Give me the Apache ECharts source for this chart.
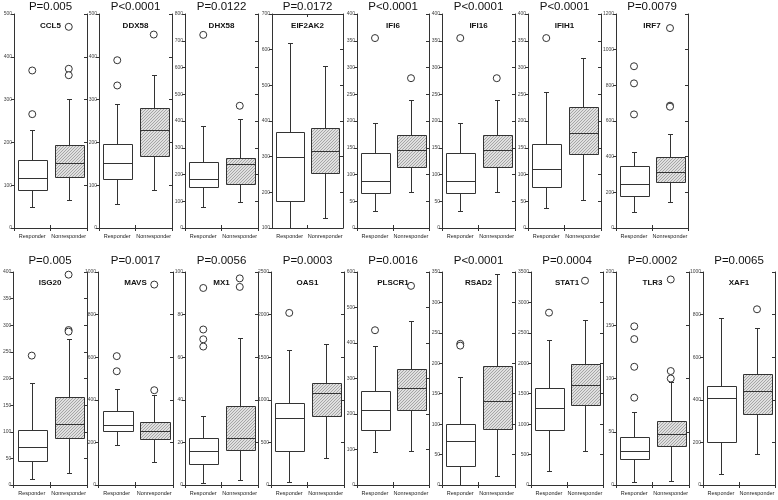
<!DOCTYPE html>
<html><head><meta charset="utf-8">
<script src="https://cdn.jsdelivr.net/npm/echarts@6/dist/echarts.min.js"></script>
<style>html,body{margin:0;padding:0;background:#fff}#c{width:778px;height:500px}</style>
</head><body><div id="c"></div>
<script>
// ---------------- DATA ----------------
const categories = ['Responder', 'Nonresponder'];
const genes = ['CCL5','DDX58','DHX58','EIF2AK2','IFI6','IFI16','IFIH1','IRF7',
               'ISG20','MAVS','MX1','OAS1','PLSCR1','RSAD2','STAT1','TLR3','XAF1'];
const pValues = ['P=0.005','P<0.0001','P=0.0122','P=0.0172','P<0.0001','P<0.0001','P<0.0001','P=0.0079',
                 'P=0.005','P=0.0017','P=0.0056','P=0.0003','P=0.0016','P<0.0001','P=0.0004','P=0.0002','P=0.0065'];
// y axis ticks
const yMins      = [0, 0, 0, 100, 0, 0, 0, 0,    0, 0, 0, 0, 0, 0, 0, 0, 0];
const yMaxs      = [500, 500, 800, 700, 400, 400, 400, 1200,  400, 1000, 100, 2500, 600, 350, 3500, 200, 1000];
const yIntervals = [100, 100, 100, 100, 50, 50, 50, 200,  50, 200, 20, 500, 100, 50, 500, 50, 200];
// [lower whisker, Q1, median, Q3, upper whisker]
const responderBox = [
  [49, 89, 117, 159, 228],
  [57, 115, 152, 197, 289],
  [78, 152, 184, 245, 380],
  [80, 175, 299, 368, 620],
  [32, 65, 87, 141, 196],
  [32, 65, 87, 141, 196],
  [37, 77, 111, 157, 254],
  [88, 178, 249, 350, 426],
  [12, 46, 71, 104, 191],
  [188, 255, 284, 348, 452],
  [1.1, 9.7, 15.8, 22, 32.5],
  [39, 395, 781, 965, 1590],
  [92, 154, 210, 264, 392],
  [0, 32, 72, 101, 178],
  [230, 902, 1258, 1602, 2389],
  [3, 24, 32, 45, 69],
  [52, 203, 409, 467, 786]
];
const nonresponderBox = [
  [65, 120, 153, 195, 301],
  [88, 169, 228, 280, 357],
  [97, 166, 240, 260, 407],
  [128, 254, 315, 380, 553],
  [67, 114, 145, 174, 240],
  [67, 114, 145, 174, 239],
  [52, 138, 178, 226, 318],
  [146, 258, 316, 398, 527],
  [22, 88, 114, 166, 275],
  [106, 216, 252, 297, 422],
  [2.3, 16.3, 21.9, 37.3, 68.8],
  [313, 813, 1074, 1199, 1652],
  [96, 212, 273, 326, 462],
  [15, 92, 138, 196, 347],
  [558, 1312, 1640, 1996, 2717],
  [4, 37, 48, 60, 97],
  [145, 331, 439, 519, 737]
];
const responderOutliers = [
  [368, 266], [392, 333], [722], [], [355], [355], [355], [907, 811, 637],
  [243], [605, 534], [92.5, 73, 68.4, 65], [2020], [436], [232, 229], [2832], [149, 137, 111, 82], []
];
const nonresponderOutliers = [
  [470, 372, 357], [452], [457], [], [280], [280], [], [1121, 686, 680],
  [395, 291, 288], [941, 445], [97, 93], [], [561], [], [3357], [193, 107, 100], [825]
];

// ---------------- LAYOUT ----------------
const topRowX = [[14,87],[99,172],[185,258],[272,343],[357,429],[442,515],[528,601],[616,688]];
const bottomRowX = [[13,87],[98,173],[185,258],[271,344],[357,429],[442,515],[531,603],[616,689],[703,775]];
const rows = [{top:14, bottom:228, titleY:7, geneY:26}, {top:272, bottom:485, titleY:261, geneY:283}];

const FONT = '"Liberation Sans", Arial, Helvetica, sans-serif';
const LINE = '#333';

// hatch pattern
const pc = document.createElement('canvas');
pc.width = 3; pc.height = 3;
const g = pc.getContext('2d');
g.fillStyle = '#e0e0e0'; g.fillRect(0,0,3,3);
g.strokeStyle = '#a6a6a6'; g.lineWidth = 1;
g.beginPath();
g.moveTo(-1,4); g.lineTo(4,-1);
g.moveTo(-1,1); g.lineTo(1,-1);
g.moveTo(2,4); g.lineTo(4,2);
g.stroke();
const hatch = {image: pc, repeat: 'repeat'};

function renderBox(params, api) {
  const cat = api.value(0);
  const vals = [api.value(1), api.value(2), api.value(3), api.value(4), api.value(5)];
  const cx = Math.round(api.coord([cat, vals[2]])[0]) + 0.5;
  const bw = api.size([1, 0])[0] * 0.8;
  const yy = v => Math.round(api.coord([cat, v])[1]) + 0.5;
  const yLo = yy(vals[0]), yQ1 = yy(vals[1]), yMed = yy(vals[2]), yQ3 = yy(vals[3]), yHi = yy(vals[4]);
  const x0 = Math.round(cx - bw / 2) + 0.5;
  const x1 = x0 + Math.round(bw);
  const ls = {stroke: LINE, lineWidth: 1};
  return {
    type: 'group',
    children: [
      {type: 'line', shape: {x1: cx, y1: yQ3, x2: cx, y2: yHi}, style: ls},
      {type: 'line', shape: {x1: cx, y1: yQ1, x2: cx, y2: yLo}, style: ls},
      {type: 'line', shape: {x1: cx - 2.5, y1: yHi, x2: cx + 2.5, y2: yHi}, style: ls},
      {type: 'line', shape: {x1: cx - 2.5, y1: yLo, x2: cx + 2.5, y2: yLo}, style: ls},
      {type: 'rect', shape: {x: x0, y: yQ3, width: x1 - x0, height: yQ1 - yQ3},
        style: {fill: cat === 0 ? '#fff' : hatch, stroke: LINE, lineWidth: 1}},
      {type: 'line', shape: {x1: x0, y1: yMed, x2: x1, y2: yMed}, style: ls}
    ]
  };
}

const grid = [], xAxis = [], yAxis = [], series = [], graphic = [];
genes.forEach((gene, i) => {
  const row = i < 8 ? rows[0] : rows[1];
  const [L, R] = i < 8 ? topRowX[i] : bottomRowX[i - 8];
  grid.push({left: L, top: row.top, width: R - L, height: row.bottom - row.top, containLabel: false});
  const axLine = {show: true, lineStyle: {color: LINE, width: 1}};
  xAxis.push({type: 'category', data: categories, gridIndex: i, position: 'bottom', boundaryGap: true,
    axisLine: axLine, axisTick: {show: true, inside: true, length: 3, interval: 0, lineStyle: {color: LINE}},
    axisLabel: {interval: 0, fontSize: 5.5, color: '#222', margin: 5, fontFamily: FONT},
    splitLine: {show: false}});
  xAxis.push({type: 'category', data: categories, gridIndex: i, position: 'top', boundaryGap: true,
    axisLine: axLine, axisTick: {show: true, inside: true, length: 3, interval: 0, lineStyle: {color: LINE}},
    axisLabel: {show: false}, splitLine: {show: false}});
  yAxis.push({type: 'value', gridIndex: i, position: 'left', min: yMins[i], max: yMaxs[i], interval: yIntervals[i],
    axisLine: axLine, axisTick: {show: true, inside: false, length: 3, lineStyle: {color: LINE}},
    axisLabel: {fontSize: 5, color: '#444', margin: 2, fontFamily: FONT, formatter: v => String(v)},
    splitLine: {show: false}});
  yAxis.push({type: 'value', gridIndex: i, position: 'right', min: yMins[i], max: yMaxs[i], interval: yIntervals[i],
    axisLine: axLine, axisTick: {show: true, inside: true, length: 3, lineStyle: {color: LINE}},
    axisLabel: {show: false}, splitLine: {show: false}});

  series.push({type: 'custom', xAxisIndex: 2 * i, yAxisIndex: 2 * i, clip: true,
    renderItem: renderBox,
    encode: {x: 0, y: [1, 2, 3, 4, 5]},
    data: [[0].concat(responderBox[i]), [1].concat(nonresponderBox[i])],
    silent: true, animation: false, z: 2});
  const outl = responderOutliers[i].map(v => [0, v]).concat(nonresponderOutliers[i].map(v => [1, v]));
  series.push({type: 'scatter', xAxisIndex: 2 * i, yAxisIndex: 2 * i, data: outl,
    symbol: 'circle', symbolSize: 7,
    itemStyle: {color: '#fff', borderColor: LINE, borderWidth: 1, opacity: 1},
    silent: true, animation: false, z: 3});

  const cx = (L + R) / 2;
  graphic.push({type: 'text', x: cx, y: row.titleY, silent: true,
    style: {text: pValues[i], fill: '#111', font: '11.5px ' + FONT, textAlign: 'center', verticalAlign: 'middle', textVerticalAlign: 'middle'}});
  graphic.push({type: 'text', x: cx, y: row.geneY, silent: true, z: 10,
    style: {text: gene, fill: '#111', font: 'bold 8px ' + FONT, textAlign: 'center', verticalAlign: 'middle', textVerticalAlign: 'middle'}});
});

const chart = echarts.init(document.getElementById('c'), null, {renderer: 'canvas'});
chart.setOption({
  backgroundColor: '#fff',
  animation: false,
  grid, xAxis, yAxis, series, graphic
});
</script>
</body></html>
